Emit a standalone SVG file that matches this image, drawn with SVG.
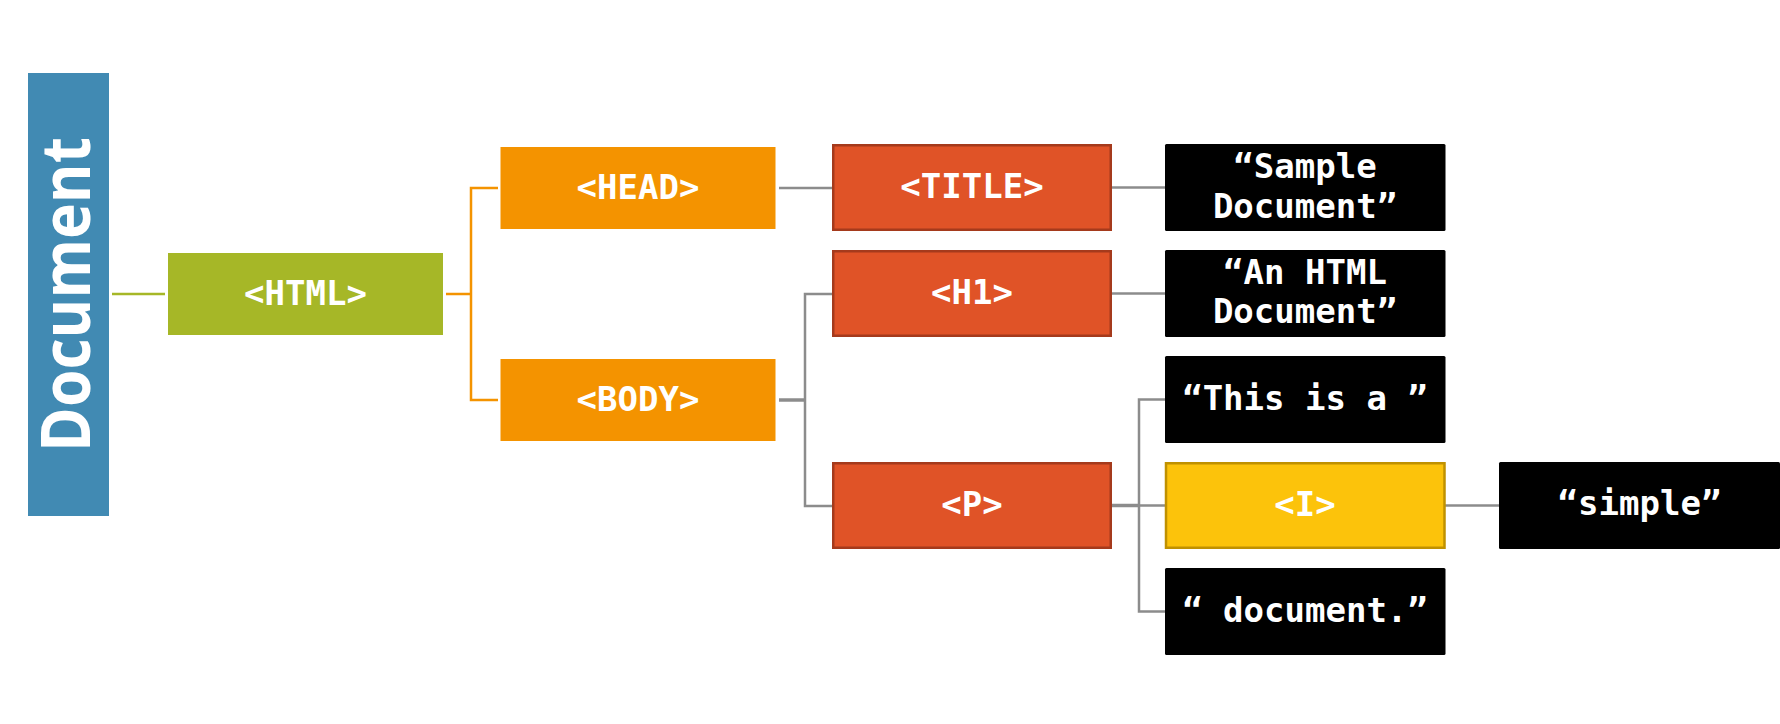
<svg xmlns="http://www.w3.org/2000/svg" width="1780" height="724" viewBox="0 0 1780 724">
<style>
.t{font-family:"DejaVu Sans Mono","Liberation Mono",monospace;font-weight:bold;font-size:34px;fill:#fff;text-anchor:middle}
.doc{font-family:"Open Sans","Noto Sans",sans-serif;font-weight:700;font-size:68px;fill:#fff;text-anchor:middle}
.red{fill:#e05327;stroke:#a53a1c;stroke-width:2.5}
.blk{fill:#000}
.org{fill:#f49300}
.g{fill:none;stroke:#8c8c8c;stroke-width:2.5}
.gt{fill:none;stroke:#8c8c8c;stroke-width:3.5}
</style>
<rect width="1780" height="724" fill="#fff"/>
<g id="connectors">
<line x1="112" y1="294" x2="165" y2="294" stroke="#a6b727" stroke-width="2.5"/>
<path d="M446 294H471M498 188H471V400H498" fill="none" stroke="#f49300" stroke-width="2.5"/>
<line class="g" x1="779" y1="188" x2="832" y2="188"/>
<line class="g" x1="1112" y1="187.5" x2="1165" y2="187.5"/>
<line class="g" x1="1112" y1="293.5" x2="1165" y2="293.5"/>
<line class="gt" x1="779" y1="400" x2="805" y2="400"/>
<path class="g" d="M832 294H805V506H832"/>
<line class="gt" x1="1112" y1="505.5" x2="1139" y2="505.5"/>
<path class="g" d="M1165 399.5H1139V611.5H1165M1139 505.5H1165"/>
<line class="g" x1="1445" y1="505.5" x2="1499" y2="505.5"/>
</g>
<g id="document">
<rect x="28" y="73" width="81" height="443" fill="#418ab3"/>
<text class="doc" transform="translate(90,294.5) rotate(-90)" textLength="315" lengthAdjust="spacingAndGlyphs">Document</text>
</g>
<g id="html">
<rect x="168" y="253" width="275" height="82" fill="#a6b727"/>
<text class="t" x="305.5" y="304.5">&lt;HTML&gt;</text>
</g>
<g id="head">
<rect class="org" x="500.5" y="147" width="275" height="82"/>
<text class="t" x="638" y="198.5">&lt;HEAD&gt;</text>
</g>
<g id="body">
<rect class="org" x="500.5" y="359" width="275" height="82"/>
<text class="t" x="638" y="410.5">&lt;BODY&gt;</text>
</g>
<g id="title">
<rect class="red" x="833.25" y="145.25" width="277.5" height="84.5"/>
<text class="t" x="972" y="198">&lt;TITLE&gt;</text>
</g>
<g id="h1">
<rect class="red" x="833.25" y="251.25" width="277.5" height="84.5"/>
<text class="t" x="972" y="304">&lt;H1&gt;</text>
</g>
<g id="p">
<rect class="red" x="833.25" y="463.25" width="277.5" height="84.5"/>
<text class="t" x="972" y="516">&lt;P&gt;</text>
</g>
<g id="sample-document">
<rect class="blk" x="1165" y="144" width="280.5" height="87" rx="1.5"/>
<text class="t" x="1305" y="177.5">“Sample</text>
<text class="t" x="1305" y="217.5">Document”</text>
</g>
<g id="an-html-document">
<rect class="blk" x="1165" y="250" width="280.5" height="87" rx="1.5"/>
<text class="t" x="1305" y="283.5">“An HTML</text>
<text class="t" x="1305" y="323">Document”</text>
</g>
<g id="this-is-a">
<rect class="blk" x="1165" y="356" width="280.5" height="87" rx="1.5"/>
<text class="t" x="1305" y="409.5" xml:space="preserve">“This is a ”</text>
</g>
<g id="i">
<rect x="1166" y="463.25" width="278.5" height="84.5" fill="#fcc30b" stroke="#c09100" stroke-width="2.5"/>
<text class="t" x="1305" y="515.5">&lt;I&gt;</text>
</g>
<g id="document-text">
<rect class="blk" x="1165" y="568" width="280.5" height="87" rx="1.5"/>
<text class="t" x="1305" y="621.5" xml:space="preserve">“ document.”</text>
</g>
<g id="simple">
<rect class="blk" x="1499" y="462" width="281" height="87" rx="1.5"/>
<text class="t" x="1639.5" y="515">“simple”</text>
</g>
</svg>
